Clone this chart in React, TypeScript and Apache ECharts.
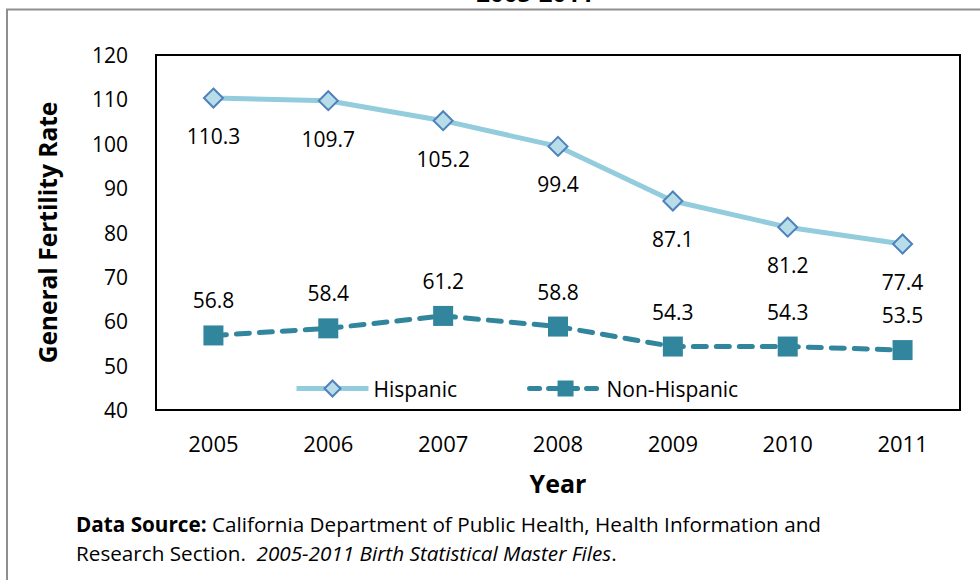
import React, { useEffect, useRef } from "react";
import * as echarts from "echarts";

// Years on the category axis
const years = ["2005", "2006", "2007", "2008", "2009", "2010", "2011"];
// General fertility rate per 1,000 women, by ethnicity
const hispanic = [110.3, 109.7, 105.2, 99.4, 87.1, 81.2, 77.4];
const nonHispanic = [56.8, 58.4, 61.2, 58.8, 54.3, 54.3, 53.5];
// Value axis ticks
const yTicks = [40, 50, 60, 70, 80, 90, 100, 110, 120];

const FONT = "'Open Sans', Lato, sans-serif";

const HISP_LINE = "#93CDDD";
const HISP_FILL = "#B7DDE8";
const HISP_EDGE = "#4F81BD";
const NONHISP = "#31859C";

export default function App() {
  const ref = useRef<HTMLDivElement>(null);

  useEffect(() => {
    if (!ref.current) return;
    const chart = echarts.init(ref.current, null, { renderer: "svg" });
    const valueLabel = (offsetY: number) => ({
      show: true,
      position: "inside",
      offset: [0, offsetY],
      fontFamily: FONT,
      fontSize: 21,
      color: "#000",
      formatter: (p: any) => p.value.toFixed(1),
    });
    chart.setOption({
      animation: false,
      backgroundColor: "#ffffff",
      textStyle: { fontFamily: FONT, color: "#000" },
      grid: {
        left: 156,
        top: 55,
        right: 20,
        bottom: 170,
        show: true,
        borderColor: "#000",
        borderWidth: 2,
        backgroundColor: "transparent",
      },
      legend: {
        left: 289,
        top: 373,
        itemWidth: 72,
        itemHeight: 20,
        itemGap: 70,
        textStyle: { fontFamily: FONT, fontSize: 21, color: "#000" },
        data: [
          {
            name: "Hispanic",
            lineStyle: { color: HISP_LINE, width: 5 },
            itemStyle: { color: HISP_FILL, borderColor: HISP_EDGE, borderWidth: 2 },
          },
          {
            name: "Non-Hispanic",
            lineStyle: { color: NONHISP, width: 5, type: [10, 9], cap: "round" },
            itemStyle: { color: NONHISP, borderWidth: 0 },
          },
        ],
      },
      xAxis: {
        type: "category",
        data: years,
        boundaryGap: true,
        axisLine: { show: true, lineStyle: { color: "#000", width: 2 } },
        axisTick: { show: false },
        splitLine: { show: false },
        axisLabel: { fontFamily: FONT, fontSize: 22, color: "#000", margin: 22 },
        name: "Year",
        nameLocation: "middle",
        nameGap: 60,
        nameTextStyle: { fontFamily: FONT, fontSize: 25, fontWeight: "bold", color: "#000" },
      },
      yAxis: {
        type: "value",
        min: yTicks[0],
        max: yTicks[yTicks.length - 1],
        interval: yTicks[1] - yTicks[0],
        axisLine: { show: true, lineStyle: { color: "#000", width: 2 } },
        axisTick: { show: false },
        splitLine: { show: false },
        axisLabel: { fontFamily: FONT, fontSize: 21, color: "#000", margin: 28 },
        name: "General Fertility Rate",
        nameLocation: "middle",
        nameRotate: 90,
        nameGap: 96,
        nameTextStyle: { fontFamily: FONT, fontSize: 24.5, fontWeight: "bold", color: "#000" },
      },
      series: [
        {
          name: "Hispanic",
          type: "line",
          data: hispanic,
          symbol: "diamond",
          symbolSize: 19,
          lineStyle: { color: HISP_LINE, width: 5 },
          itemStyle: { color: HISP_FILL, borderColor: HISP_EDGE, borderWidth: 2 },
          label: valueLabel(38),
          z: 3,
        },
        {
          name: "Non-Hispanic",
          type: "line",
          data: nonHispanic,
          symbol: "rect",
          symbolSize: 20,
          lineStyle: { color: NONHISP, width: 5, type: [13, 10], cap: "round" },
          itemStyle: { color: NONHISP, borderWidth: 0 },
          label: valueLabel(-35),
          z: 3,
        },
      ],
      graphic: [
        {
          type: "rect",
          shape: { x: 7, y: 9.5, width: 1100, height: 700 },
          style: { fill: "none", stroke: "#8f8f8f", lineWidth: 2 },
          silent: true,
          z: -1,
        },
        {
          type: "text",
          x: 535,
          y: 4,
          style: {
            text: "2005-2011",
            fontFamily: FONT,
            fontSize: 24,
            fontWeight: "bold",
            fill: "#000",
            align: "center",
            verticalAlign: "bottom",
          },
        },
        {
          type: "text",
          x: 76,
          y: 509,
          style: {
            text:
              "{b|Data Source:} California Department of Public Health, Health Information and\nResearch Section.  {i|2005-2011 Birth Statistical Master Files}.",
            fontFamily: FONT,
            fontSize: 20.7,
            lineHeight: 29,
            fill: "#000",
            rich: {
              b: { fontFamily: FONT, fontSize: 20.7, fontWeight: "bold", fill: "#000", lineHeight: 29 },
              i: { fontFamily: FONT, fontSize: 20.7, fontStyle: "italic", fill: "#000", lineHeight: 29 },
            },
          },
        },
      ],
    });
    return () => chart.dispose();
  }, []);

  return (
    <div
      ref={ref}
      style={{ position: "absolute", left: 0, top: 0, width: 980, height: 580 }}
    />
  );
}
